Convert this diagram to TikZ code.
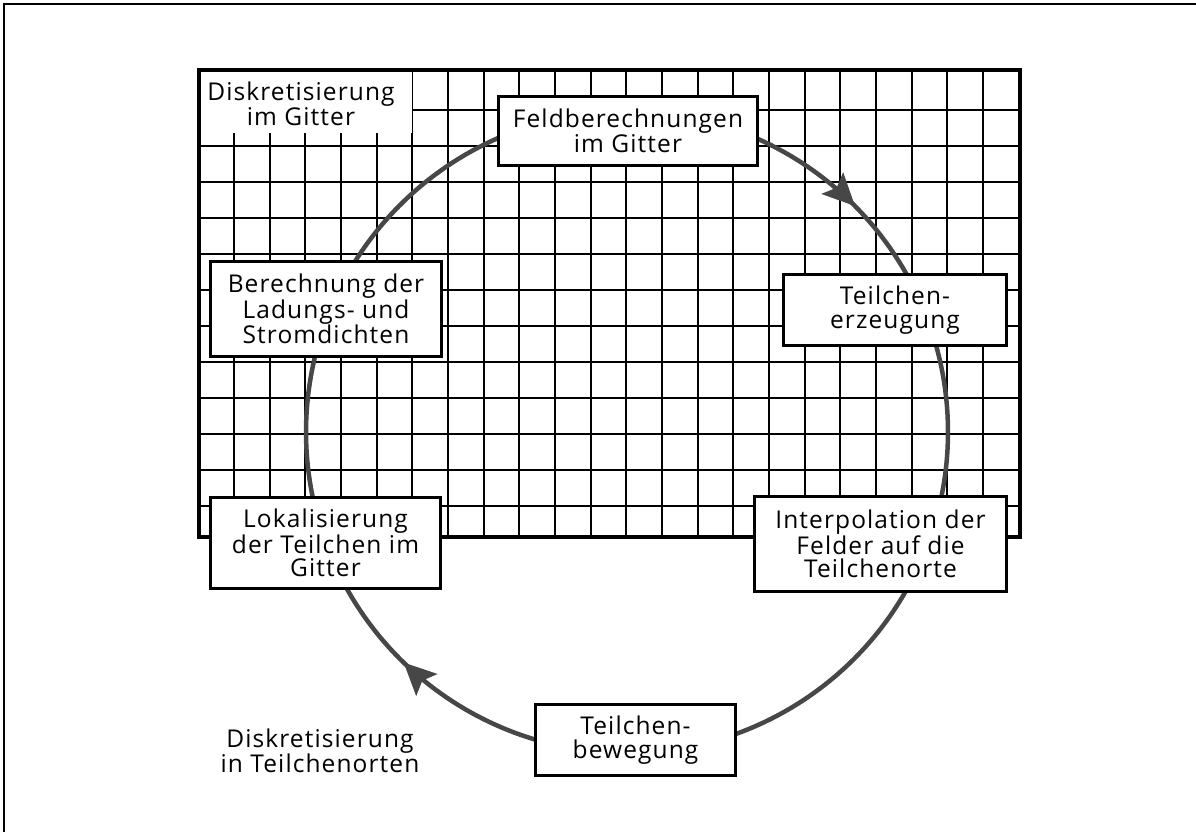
\documentclass[tikz,border=0pt]{standalone}
\usepackage{fontspec}
\setmainfont{Open Sans}[LetterSpace=4.5]
\usetikzlibrary{calc,decorations.markings,arrows.meta}

\pgfdeclarelayer{gridlayer}
\pgfdeclarelayer{ringlayer}
\pgfsetlayers{gridlayer,ringlayer,main}

\newcommand\labelfont{\fontsize{24.5}{23.5}\selectfont}

\tikzset{
  stepbox/.style={draw=black, line width=3.5pt, fill=white, inner sep=0pt,
    align=center, font=\labelfont},
  caption/.style={align=center, font=\labelfont, inner sep=0pt},
  gridline/.style={line width=2pt, draw=black},
  gridframe/.style={line width=3.5pt, draw=black},
  frameline/.style={line width=2.5pt, draw=black},
  ring/.style={line width=4.5pt, draw=black!72},
  flowtip/.style={postaction={decorate},
    decoration={markings, mark=at position #1 with
      {\arrow[black!72]{Stealth[length=32pt,width=30pt,inset=6pt]}}}},
}

% arc of the cycle ring (centre: ctr) from the box #2 to the box #3, clockwise
\newcommand\ringarc[3][]{%
  \draw[ring,#1] let \p1=($(#2)-(ctr)$), \p2=($(#3)-(ctr)$),
    \n1={atan2(\y1,\x1)}, \n2={\n1-mod(\n1-atan2(\y2,\x2)+720,360)} in
    ($(ctr)+(\n1:321pt)$) arc[start angle=\n1, end angle=\n2, radius=321pt];}

\begin{document}
\begin{tikzpicture}[x=1pt,y=1pt]
  \useasboundingbox (0,0) rectangle (1196,831);
  \clip (0,0) rectangle (1196,831);

  % outer frame
  \draw[frameline] (4,-20) -- (4,827) -- (1230,827);

  % mesh
  \begin{pgfonlayer}{gridlayer}
    \foreach \k in {0,...,21}
      \draw[gridline] ({234+35.67*\k},294) -- ({234+35.67*\k},761);
    \foreach \k in {0,...,11}
      \draw[gridline] (199,{721-36*\k}) -- (1020,{721-36*\k});
    \fill[white] (201,698) rectangle (411.5,759.5);
    \draw[gridframe] (199,294) rectangle (1020,761);
  \end{pgfonlayer}

  \coordinate (ctr) at (627,399);

  % process steps
  \node[stepbox, minimum width=259pt, minimum height=69pt] (feld) at (628,700)
    {Feldberechnungen\\im Gitter};
  \node[stepbox, minimum width=223pt, minimum height=71pt] (erzeug) at (895,521)
    {Teilchen-\\erzeugung};
  \node[stepbox, minimum width=252pt, minimum height=95pt] (interp) at (880.5,287)
    {Interpolation der\\Felder auf die\\Teilchenorte};
  \node[stepbox, minimum width=200pt, minimum height=71pt] (beweg) at (635.5,91)
    {Teilchen-\\bewegung};
  \node[stepbox, minimum width=230pt, minimum height=91pt] (lokal) at (325.5,288)
    {Lokalisierung\\der Teilchen im\\Gitter};
  \node[stepbox, minimum width=231pt, minimum height=95pt] (ladung) at (326,522)
    {Berechnung der\\Ladungs- und\\Stromdichten};

  % captions
  \node[caption] (gitterlabel) at (301,727) {Diskretisierung\\im Gitter};
  \node[caption] (ortlabel) at (320,80) {Diskretisierung\\in Teilchenorten};

  % cycle
  \begin{pgfonlayer}{ringlayer}
    \ringarc[flowtip=0.69]{feld}{erzeug}
    \ringarc{erzeug}{interp}
    \ringarc{interp}{beweg}
    \ringarc[flowtip=0.64]{beweg}{lokal}
    \ringarc{lokal}{ladung}
    \ringarc{ladung}{feld}
  \end{pgfonlayer}
\end{tikzpicture}
\end{document}
